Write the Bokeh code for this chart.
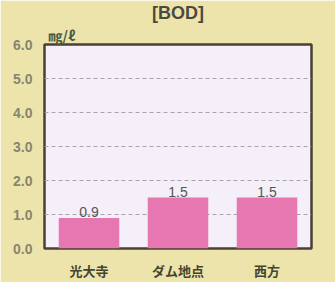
from bokeh.plotting import figure
from bokeh.models import ColumnDataSource, FactorRange, Range1d, LabelSet, Title, FixedTicker, CustomJSTickFormatter
from bokeh.core.properties import value
from bokeh.embed import file_html
from bokeh.resources import INLINE

categories = ["光大寺", "ダム地点", "西方"]
values = [0.9, 1.5, 1.5]
value_labels = ["0.9", "1.5", "1.5"]
y_ticks = [0, 1, 2, 3, 4, 5, 6]
grid_ticks = [1, 2, 3, 4, 5]

src = ColumnDataSource(dict(cat=categories, val=values, lab=value_labels))

p = figure(width=335, height=282, output_backend="svg", toolbar_location=None,
           x_range=FactorRange(factors=categories, range_padding=0),
           y_range=Range1d(0, 6),
           min_border_left=44, min_border_right=24, min_border_top=40, min_border_bottom=30)
p.border_fill_color = "#EDE4AC"
p.background_fill_color = "#F4EFF8"
p.outline_line_color = "#4A4036"
p.outline_line_width = 2.5

p.vbar(x="cat", top="val", width=0.68, source=src, fill_color="#E677B0", line_color=None)

labels = LabelSet(x="cat", y="val", text="lab", source=src, text_align="center",
                  text_baseline="bottom", y_offset=1, text_font_size="14px",
                  text_color="#555555", text_font=value("Liberation Sans"))
p.add_layout(labels)

p.yaxis.ticker = FixedTicker(ticks=y_ticks)
p.yaxis.formatter = CustomJSTickFormatter(code="return tick.toFixed(1);")
p.yaxis.axis_line_color = None
p.yaxis.major_tick_line_color = None
p.yaxis.minor_tick_line_color = None
p.yaxis.major_label_text_font_size = "14px"
p.yaxis.major_label_text_color = "#86866E"
p.yaxis.major_label_text_font = "Liberation Sans"
p.yaxis.major_label_text_font_style = "bold"
p.yaxis.major_label_standoff = 6

p.xaxis.axis_line_color = None
p.xaxis.major_tick_line_color = None
p.xaxis.major_label_text_font_size = "13px"
p.xaxis.major_label_text_color = "#45452E"
p.xaxis.major_label_text_font = "Noto Sans CJK JP"
p.xaxis.major_label_text_font_style = "bold"
p.xaxis.major_label_standoff = 6

p.xgrid.grid_line_color = None
p.ygrid.ticker = FixedTicker(ticks=grid_ticks)
p.ygrid.grid_line_color = "#A8A4A8"
p.ygrid.grid_line_dash = "4 3"
p.ygrid.grid_line_width = 1

unit = Title(text="㎎/ℓ", align="left", offset=4, standoff=0,
             text_font_size="14px", text_font_style="bold", text_color="#4A5A40",
             text_font="Noto Sans CJK JP", text_line_height=0.7)
p.add_layout(unit, "above")
title = Title(text="[BOD]", align="center", offset=-7, standoff=0,
              text_font_size="18px", text_font_style="bold", text_color="#4A4A40",
              text_font="Liberation Sans", text_line_height=0.9)
p.add_layout(title, "above")

open("out.html", "w").write(file_html(p, INLINE))
